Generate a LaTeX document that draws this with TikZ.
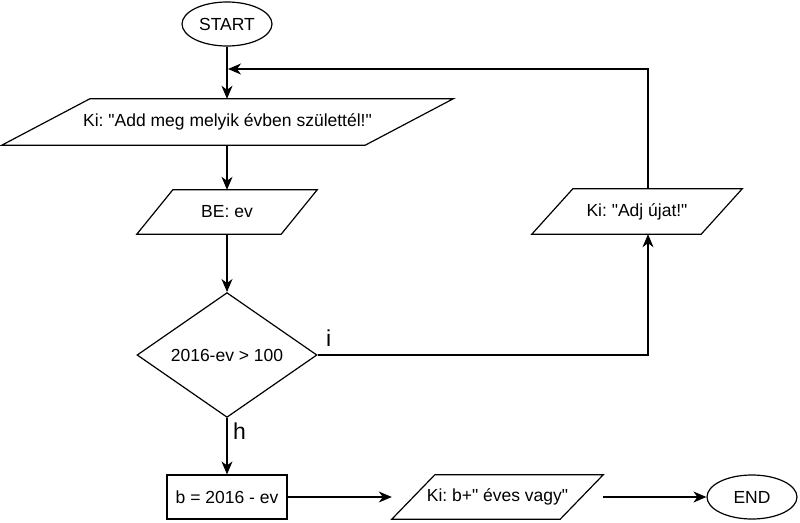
\documentclass[tikz,border=0pt]{standalone}
\usepackage{fontspec}
\setmainfont{Liberation Sans}
\usetikzlibrary{shapes.geometric,arrows.meta,calc}
\frenchspacing
\tikzset{
  txt/.style={font=\fontsize{17.5}{20}\selectfont},
  shp/.style={txt, line width=1.2pt, draw=black, inner sep=0pt},
  term/.style={shp, ellipse, minimum width=90pt, minimum height=44pt},
  proc/.style={shp, rectangle, minimum width=120pt, minimum height=44pt},
  dec/.style={shp, diamond, minimum width=180pt, minimum height=120pt},
  io/.style={txt, inner sep=0pt},
  conn/.style={line width=1.2pt, -{Stealth[length=13pt,width=11pt,inset=4pt]}},
  plain/.style={line width=1.2pt},
  lbl/.style={font=\fontsize{23}{26}\selectfont, inner sep=0pt, anchor=base west}
}
\newcommand\iopara[2]{\draw[plain] (#1.south west) -- ($(#1.south east)-(#2,0)$) -- (#1.north east) -- ($(#1.north west)+(#2,0)$) -- cycle;}
\newcommand\qq{\textquotedbl}
\begin{document}
\begin{tikzpicture}[x=1pt,y=-1pt]
\useasboundingbox (0,0) rectangle (800,522);
% nodes
\node[term] (start) at (227,24) {START};
\node[io, minimum width=451pt, minimum height=46pt] (p1) at (227.5,122) {Ki: \qq Add meg melyik évben születtél!\qq};
\iopara{p1}{88}
\node[io, minimum width=180pt, minimum height=44pt] (be) at (227,212) {BE: ev};
\iopara{be}{36}
\node[dec] (dec) at (227,355) {2016-ev > 100};
\node[proc] (calc) at (227,497) {b = 2016 - ev};
\node[io, minimum width=211pt, minimum height=44pt] (out) at (497.5,497) {Ki: b+\qq\ éves vagy\qq};
\iopara{out}{43}
\node[term] (end) at (752,497) {END};
\node[io, minimum width=210pt, minimum height=45pt] (adj) at (637,211.5) {Ki: \qq Adj újat!\qq};
\iopara{adj}{41}
% coordinates
\coordinate (lx) at (648,0);
\coordinate (mrg) at (228,69);
% connectors
\draw[conn] (start.south) -- (start.south |- p1.north);
\draw[conn] (p1.south -| be.north) -- (be.north);
\draw[conn] (be.south) -- (dec.north);
\draw[conn] (dec.south) -- (calc.north);
\draw[conn] (calc.east) -- (out.west);
\draw[conn] (out.east) -- (end.west);
\draw[conn] (dec.east) -- (dec.east -| lx) -- (adj.south -| lx);
\draw[conn] (adj.north -| lx) -- (lx |- mrg) -- (mrg);
% labels
\node[lbl] (li) at (326,346) {i};
\node[lbl] (lh) at (233,439) {h};
\end{tikzpicture}
\end{document}
